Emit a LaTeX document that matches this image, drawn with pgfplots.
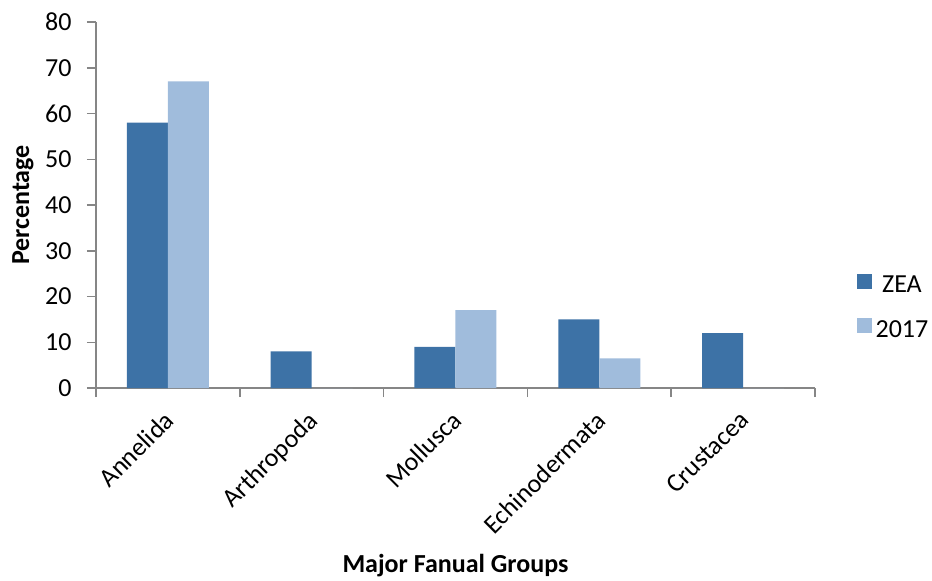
\documentclass[border=0pt]{standalone}
\usepackage{fontspec}
\setmainfont{Carlito}
\usepackage{pgfplots}
\pgfplotsset{compat=1.18}
\definecolor{zea}{HTML}{3D72A6}
\definecolor{yr}{HTML}{A0BCDC}
\definecolor{axg}{HTML}{868686}
\begin{document}
\fontsize{13}{15.6}\selectfont
\begin{tikzpicture}
\begin{axis}[
  scale only axis, width=359.5pt, height=183pt,
  at={(0pt,0pt)}, anchor=south west,
  ybar=0pt, bar width=20.5pt,
  xmin=-0.5, xmax=4.5, ymin=0, ymax=80,
  ytick={0,10,...,80},
  xtick={-0.5,0.5,...,4.5}, xticklabels={},
  extra x ticks={0,1,2,3,4},
  extra x tick labels={Annelida,Arthropoda,Mollusca,Echinodermata,Crustacea},
  extra x tick style={major tick length=0pt},
  axis x line*=bottom, axis y line*=left,
  axis line style={draw=axg, line width=0.75pt, -},
  tick align=outside, major tick length=4.5pt,
  tick style={draw=axg, line width=0.75pt},
  /pgf/number format/assume math mode=true,
  yticklabel style={anchor=east, inner sep=0pt, xshift=-7.5pt},
  xticklabel style={xshift=-2.5pt, yshift=-10.5pt, rotate=45, anchor=north east, inner sep=0pt},
  every axis y label/.style={at={(axis description cs:-0.1015,0.5)}, rotate=90, anchor=center, font=\bfseries},
  every axis x label/.style={at={(axis description cs:0.5,-0.486)}, anchor=center, font=\bfseries},
  ylabel={Percentage},
  xlabel={Major Fanual Groups},
  legend image code/.code={\path[#1, draw=none] (0pt,-1.4pt) rectangle (7.5pt,6.1pt);},
  legend style={at={(1.058,0.22)}, anchor=west, draw=none, fill=none, inner sep=0pt,
    row sep=11pt, column sep=1.75pt, nodes={inner sep=0pt}},
]
\addplot[fill=zea, draw=none] coordinates {(0,58) (1,8) (2,9) (3,15) (4,12)};
\addplot[fill=yr, draw=none] coordinates {(0,67) (1,0) (2,17) (3,6.5) (4,0)};
\legend{ZEA,2017}
\end{axis}
\pgfresetboundingbox
\path[use as bounding box] (-48pt,-96pt) rectangle (418pt,194pt);
\end{tikzpicture}
\end{document}
